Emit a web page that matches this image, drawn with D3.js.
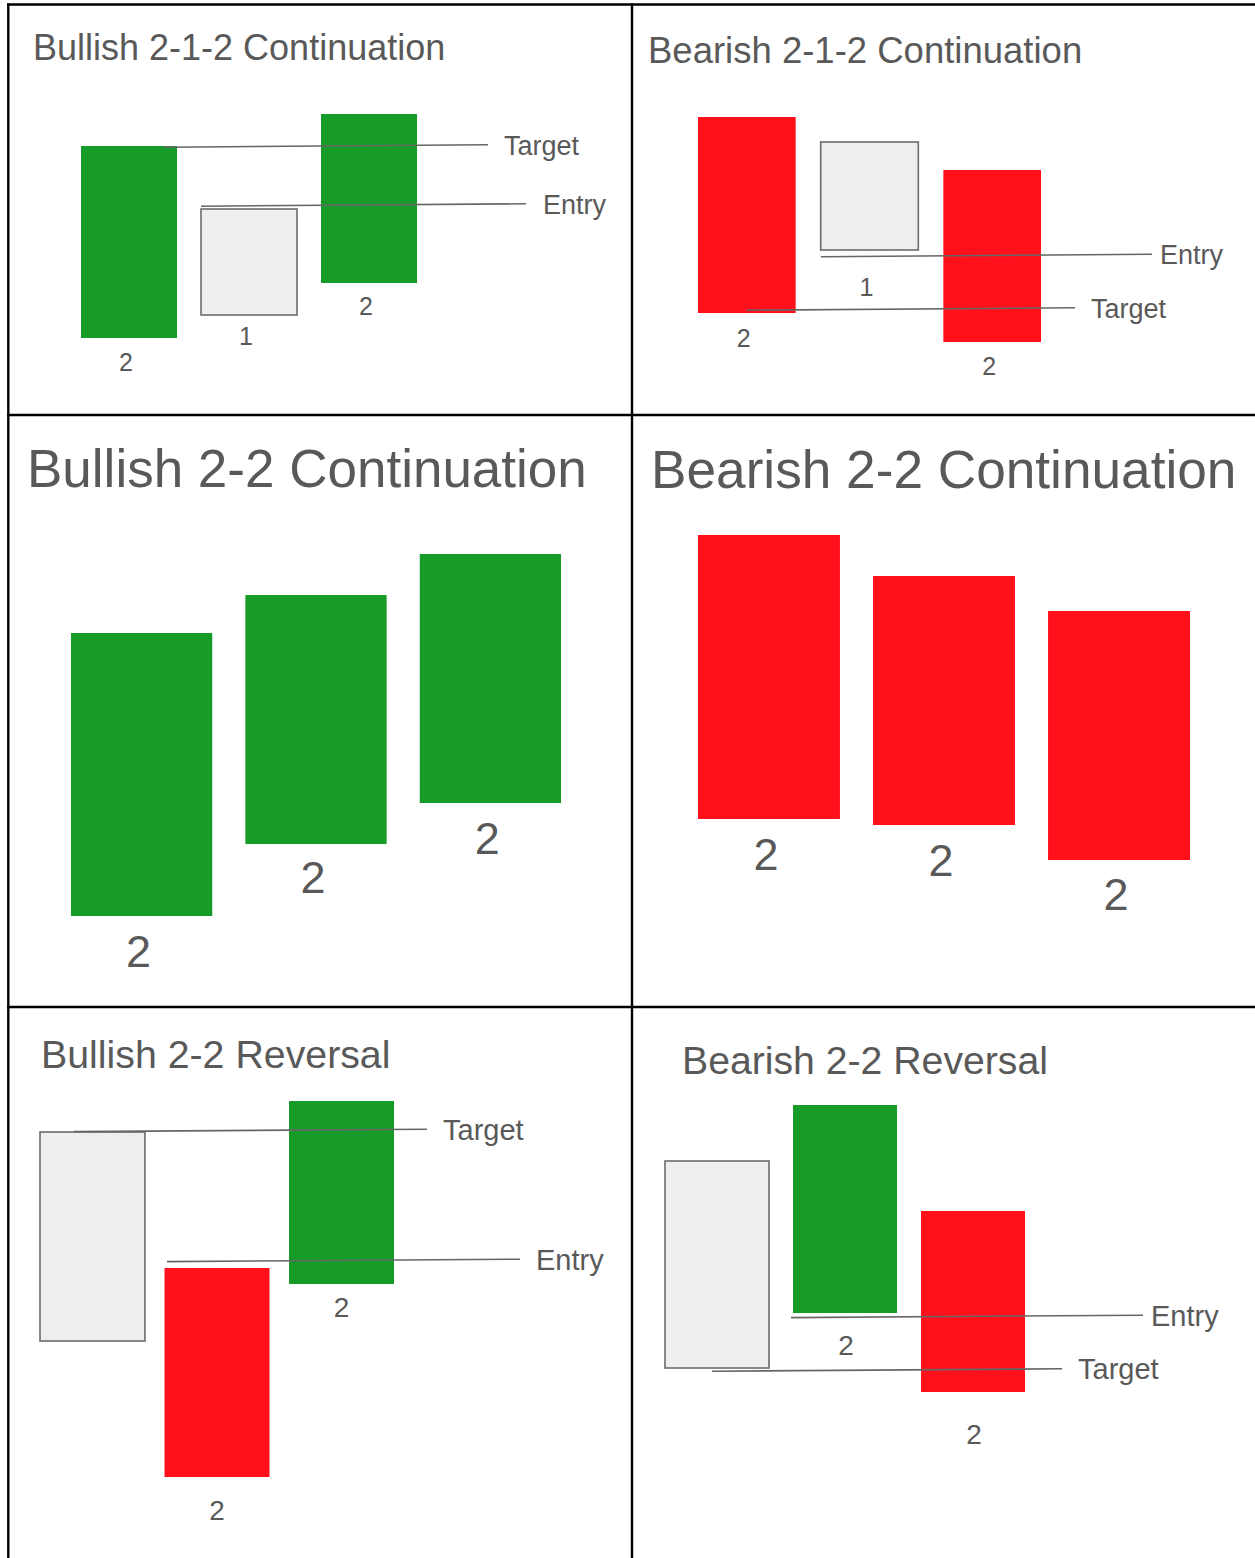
<!DOCTYPE html>
<html>
<head>
<meta charset="utf-8">
<script src="https://cdn.jsdelivr.net/npm/d3@7"></script>
<style>
  body { margin: 0; background: #fff; }
  text { font-family: "Liberation Sans", Arial, sans-serif; fill: #595959; }
</style>
</head>
<body>
<div id="chart"></div>
<script>
    var width = 1255;
    var height = 1558;

    // one title per panel, reading order
    var titles = ["Bullish 2-1-2 Continuation", "Bearish 2-1-2 Continuation",
                  "Bullish 2-2 Continuation", "Bearish 2-2 Continuation",
                  "Bullish 2-2 Reversal", "Bearish 2-2 Reversal"];

    // candles per panel: kind, label under it, high and low on the panel's price scale (0-100)
    var candleKinds = [["up", "inside", "up"], ["down", "inside", "down"],
                       ["up", "up", "up"], ["down", "down", "down"],
                       ["inside", "down", "up"], ["inside", "up", "down"]];
    var candleLabels = [["2", "1", "2"], ["2", "1", "2"],
                        ["2", "2", "2"], ["2", "2", "2"],
                        ["", "2", "2"], ["", "2", "2"]];
    var candleHighs = [[81.6, 56.4, 94.4], [93.2, 83.2, 72],
                       [81.75, 91.25, 101.5], [106.25, 96, 87.25],
                       [92, 58, 99.75], [72.25, 86.25, 59.75]];
    var candleLows = [[4.8, 14, 26.8], [14.8, 40, 3.2],
                      [11, 29, 39.25], [35.25, 33.75, 25],
                      [39.75, 5.75, 54], [20.5, 34.25, 14.5]];

    // entry / target levels
    var lineNames = [["Target", "Entry"], ["Entry", "Target"], [], [], ["Target", "Entry"], ["Entry", "Target"]];
    var lineLevels = [[81.6, 58], [37.8, 16.4], [], [], [92.4, 59.9], [33.4, 20]];

    // where each panel sits on the page
    var layout = [
      {x: [81, 417], pad: 0.2, y: [350, 100], title: [33, 60, 36], num: 25, lab: 27, ndx: -3,
       gaps: [33, 30, 32], spans: [[164, 488, 504], [201, 526, 543]]},
      {x: [698, 1041], pad: 0.204, y: [350, 100], title: [648, 63, 36.5], num: 25, lab: 27, ndx: -3,
       gaps: [34, 46, 33], spans: [[821, 1152, 1160], [746, 1075, 1091]]},
      {x: [71, 561], pad: 0.19, y: [960, 560], title: [27, 487, 53], num: 45, lab: 27, ndx: -3,
       gaps: [51, 49, 51], spans: []},
      {x: [698, 1190], pad: 0.189, y: [960, 560], title: [651, 488, 53.2], num: 45, lab: 27, ndx: -3,
       gaps: [51, 51, 50], spans: []},
      {x: [40, 394], pad: 0.157, y: [1500, 1100], title: [41, 1068, 39.3], num: 28, lab: 29, ndx: 0,
       gaps: [0, 43, 33], spans: [[74, 427, 443], [167, 520, 536]]},
      {x: [665, 1025], pad: 0.1875, y: [1450, 1050], title: [682, 1074, 39.2], num: 28, lab: 29, ndx: 1,
       gaps: [0, 41.5, 52], spans: [[791, 1143, 1151], [712, 1062, 1078]]}
    ];

    var colors = {up: "#169b28", down: "#ff101b", inside: "#eeeeee"};

    var svg = d3.select("#chart")
                .append("svg")
                .attr("width", width)
                .attr("height", height);

    svg.append("rect").attr("width", width).attr("height", height).attr("fill", "#fff");

    var drawPanel = function(p) {
       var lay = layout[p];
       var xs = d3.scaleBand().domain(d3.range(candleKinds[p].length))
                  .range(lay.x).paddingInner(lay.pad).paddingOuter(0);
       var ys = d3.scaleLinear().domain([0, 100]).range(lay.y);
       var g = svg.append("g");

       g.append("text")
        .attr("x", lay.title[0])
        .attr("y", lay.title[1])
        .attr("font-size", lay.title[2])
        .text(titles[p]);

       for (var i = 0; i < candleKinds[p].length; i++) {
          var kind = candleKinds[p][i];
          var r = g.append("rect")
                   .attr("x", xs(i))
                   .attr("y", ys(candleHighs[p][i]))
                   .attr("width", xs.bandwidth())
                   .attr("height", ys(candleLows[p][i]) - ys(candleHighs[p][i]))
                   .attr("fill", colors[kind]);
          if (kind == "inside") {
             r.attr("stroke", "#6b6b6b").attr("stroke-width", 1.6);
          }
          if (candleLabels[p][i] != "") {
             g.append("text")
              .attr("x", xs(i) + xs.bandwidth() / 2 + lay.ndx)
              .attr("y", ys(candleLows[p][i]) + lay.gaps[i])
              .attr("text-anchor", "middle")
              .attr("font-size", lay.num)
              .text(candleLabels[p][i]);
          }
       }

       // level lines drift up slightly to the right, as in the sketch
       for (var j = 0; j < lineNames[p].length; j++) {
          var ly = ys(lineLevels[p][j]);
          var sp = lay.spans[j];
          g.append("line")
           .attr("x1", sp[0]).attr("y1", ly + 1.2)
           .attr("x2", sp[1]).attr("y2", ly - 1.2)
           .attr("stroke", "#666").attr("stroke-width", 1.6);
          g.append("text")
           .attr("x", sp[2])
           .attr("y", ly - 1.2)
           .attr("dy", "0.36em")
           .attr("font-size", lay.lab)
           .text(lineNames[p][j]);
       }
    }

    for (var idx = 0; idx < titles.length; idx++) {
       drawPanel(idx);
    }

    // grid frame
    var frame = [[7, 4.5, 1255, 4.5], [8.3, 3.5, 8.3, 1558], [632, 3.5, 632, 1558],
                 [7, 415, 1255, 415], [7, 1007, 1255, 1007]];
    svg.selectAll("line.frame").data(frame).enter()
       .append("line").attr("class", "frame")
       .attr("x1", function(d) { return d[0]; })
       .attr("y1", function(d) { return d[1]; })
       .attr("x2", function(d) { return d[2]; })
       .attr("y2", function(d) { return d[3]; })
       .attr("stroke", "#000").attr("stroke-width", 2.4);
</script>
</body>
</html>
